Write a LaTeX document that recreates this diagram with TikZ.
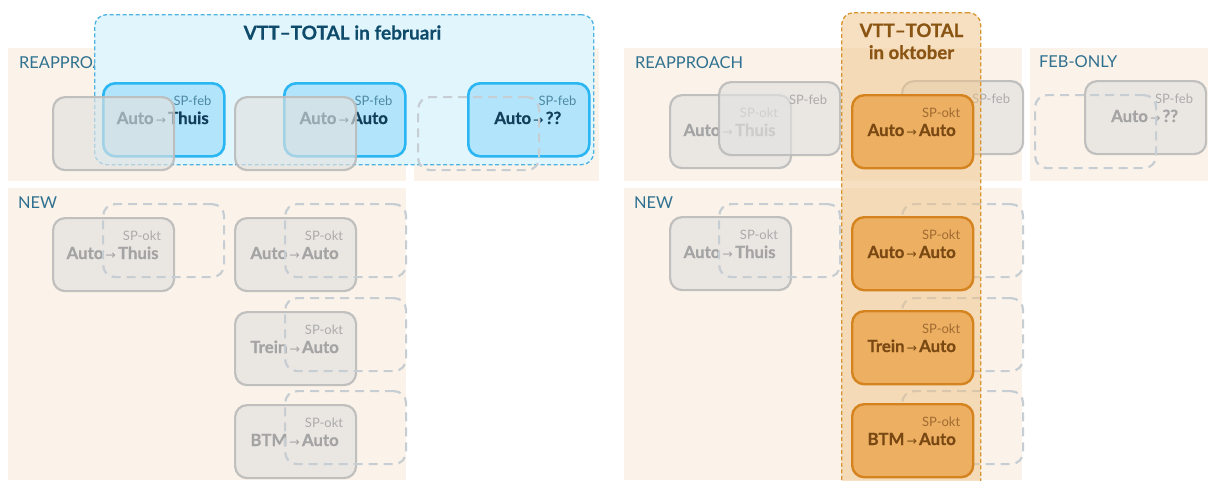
\documentclass[tikz,border=0pt]{standalone}
\usepackage{fontspec}
\setmainfont{Lato}[BoldFeatures={FakeBold=0.6}]
\newfontfamily\arrowfont{DejaVu Sans}
\usetikzlibrary{calc}

\definecolor{panelbg}{HTML}{FBF3E9}
\definecolor{seccol}{HTML}{2F7190}
\definecolor{grayfill}{HTML}{E2E2E0}
\definecolor{grayline}{HTML}{BBBBBB}
\definecolor{graysp}{HTML}{ABABAB}
\definecolor{graymain}{HTML}{A4A4A4}
\definecolor{dashcol}{HTML}{C6CDD3}
\definecolor{bzonefill}{HTML}{E1F5FD}
\definecolor{bzoneline}{HTML}{4DB3E2}
\definecolor{btitle}{HTML}{0E4B6A}
\definecolor{bboxfill}{HTML}{B2E5FB}
\definecolor{bboxline}{HTML}{2AB6F2}
\definecolor{bluesp}{HTML}{4C88A4}
\definecolor{bluemain}{HTML}{113E5B}
\definecolor{ozonefill}{HTML}{EFC385}
\definecolor{ozoneline}{HTML}{D8952F}
\definecolor{otitle}{HTML}{8A5413}
\definecolor{oboxfill}{HTML}{EDB062}
\definecolor{oboxline}{HTML}{D4831F}
\definecolor{orangesp}{HTML}{A06B32}
\definecolor{orangemain}{HTML}{7A4913}

\newcommand\arw{{\arrowfont\mdseries\fontsize{12.5}{12}\selectfont\,→\,}}
\newcommand\boxlabels[4]{%
  \node[splab, text=#4sp] (#1sp) at ($(#1.north east)+(-14,23)$) {#2};
  \node[mainlab, text=#4main] (#1main) at ($(#1.north)+(-1,42)$) {#3};}

\tikzset{
  box/.style={rectangle, rounded corners=12pt, minimum width=121pt, minimum height=73pt, inner sep=0pt, anchor=north west},
  graybox/.style={box, fill=grayfill, fill opacity=0.65, draw=grayline, draw opacity=0.9, line width=2.2pt},
  dashbox/.style={box, draw=dashcol, line width=2.2pt, dash pattern=on 9pt off 6pt},
  bluebox/.style={box, fill=bboxfill, draw=bboxline, line width=2.6pt},
  orangebox/.style={box, fill=oboxfill, draw=oboxline, line width=2.4pt},
  panel/.style={fill=panelbg},
  sec/.style={font=\fontsize{16.4}{18}\selectfont, text=seccol, inner sep=0pt, anchor=base west},
  splab/.style={font=\fontsize{13}{15}\selectfont, inner sep=0pt, anchor=base east},
  mainlab/.style={font=\bfseries\fontsize{16.8}{18}\selectfont, inner sep=0pt, anchor=base},
  bluezone/.style={rectangle, anchor=north west, rounded corners=12pt, fill=bzonefill, draw=bzoneline, line width=1.3pt, dash pattern=on 4pt off 2.5pt, inner sep=0pt},
  orangezone/.style={rectangle, anchor=north west, rounded corners=12pt, fill=ozonefill, fill opacity=0.5, draw=ozoneline, draw opacity=1, line width=1.3pt, dash pattern=on 4pt off 2.5pt, inner sep=0pt},
  btitlest/.style={font=\bfseries\fontsize{19}{22}\selectfont, text=btitle, inner sep=0pt, anchor=base},
  otitlest/.style={font=\bfseries\fontsize{18.6}{22}\selectfont, text=otitle, inner sep=0pt, anchor=base},
}

\begin{document}
\begin{tikzpicture}[x=1pt, y=-1pt]
\useasboundingbox[fill=white] (0,0) rectangle (1208,480);

% ================= LEFT HALF (februari) =================
\fill[panel] (8,48) rectangle (406,181);
\fill[panel] (414,48) rectangle (599,181);
\fill[panel] (8,188) rectangle (406,480);
\node[sec] (lreaplbl) at (19,68) {REAPPROACH};
\node[sec] (lnewlbl) at (18,208) {NEW};

% NEW items
\node[graybox] (ln1) at (52,217) {};
\boxlabels{ln1}{SP-okt}{Auto\arw Thuis}{gray}
\node[graybox] (ln2) at (234,217) {};
\boxlabels{ln2}{SP-okt}{Auto\arw Auto}{gray}
\node[graybox] (ln3) at (234,311) {};
\boxlabels{ln3}{SP-okt}{Trein\arw Auto}{gray}
\node[graybox] (ln4) at (234,404) {};
\boxlabels{ln4}{SP-okt}{BTM\arw Auto}{gray}
\node[dashbox] (ln1f) at (102,203) {};
\node[dashbox] (ln2f) at (284,203) {};
\node[dashbox] (ln3f) at (284,297) {};
\node[dashbox] (ln4f) at (284,390) {};

% VTT zone
\node[bluezone, minimum width=499pt, minimum height=150pt] (lzone) at (94,14) {};
\node[btitlest] (ltitle) at (342.5,39.5) {VTT–TOTAL in februari};

% february boxes
\node[bluebox] (lf1) at (102,82) {};
\boxlabels{lf1}{SP-feb}{Auto\arw Thuis}{blue}
\node[bluebox] (lf2) at (283,82) {};
\boxlabels{lf2}{SP-feb}{Auto\arw Auto}{blue}
\node[bluebox] (lf3) at (467,82) {};
\boxlabels{lf3}{SP-feb}{Auto\arw ??}{blue}

% october boxes on top
\node[graybox] (lo1) at (52,96) {};
\node[graybox] (lo2) at (234,96) {};
\node[dashbox] (lo3) at (417,96) {};

% ================= RIGHT HALF (oktober) =================
\fill[panel] (624,48) rectangle (1022,181);
\fill[panel] (1030,48) rectangle (1215,181);
\fill[panel] (624,188) rectangle (1022,480);
\node[sec] (rreaplbl) at (635,68) {REAPPROACH};
\node[sec] (rfeblbl) at (1039,67) {FEB-ONLY};
\node[sec] (rnewlbl) at (634,208) {NEW};

% reapproach item 1
\node[graybox] (ro1) at (669,94) {};
\boxlabels{ro1}{SP-okt}{Auto\arw Thuis}{gray}
\node[graybox] (rf1) at (718,81) {};
\node[splab, text=graysp] (rf1sp) at ($(rf1.north east)+(-14,23)$) {SP-feb};

% reapproach item 2 (feb box behind zone)
\node[graybox] (rf2) at (901,80) {};
\node[splab, text=graysp] (rf2sp) at ($(rf2.north east)+(-14,23)$) {SP-feb};

% feb-only item
\node[graybox] (rf3) at (1084,80) {};
\boxlabels{rf3}{SP-feb}{Auto\arw ??}{gray}
\node[dashbox] (ro3) at (1034,94) {};

% NEW items
\node[graybox] (rn1) at (669,216) {};
\boxlabels{rn1}{SP-okt}{Auto\arw Thuis}{gray}
\node[dashbox] (rn1f) at (718,203) {};
\node[dashbox] (rn2f) at (901,203) {};
\node[dashbox] (rn3f) at (901,297) {};
\node[dashbox] (rn4f) at (901,390) {};

% VTT zone
\node[orangezone, minimum width=139pt, minimum height=490pt] (rzone) at (841,12) {};
\node[otitlest] (rtitle1) at (911.5,37) {VTT–TOTAL};
\node[otitlest] (rtitle2) at (911.5,59) {in oktober};

% october boxes in VTT
\node[orangebox] (ro2) at (851,94) {};
\boxlabels{ro2}{SP-okt}{Auto\arw Auto}{orange}
\node[orangebox] (rn2) at (851,216) {};
\boxlabels{rn2}{SP-okt}{Auto\arw Auto}{orange}
\node[orangebox] (rn3) at (851,310) {};
\boxlabels{rn3}{SP-okt}{Trein\arw Auto}{orange}
\node[orangebox] (rn4) at (851,403) {};
\boxlabels{rn4}{SP-okt}{BTM\arw Auto}{orange}
\end{tikzpicture}
\end{document}
